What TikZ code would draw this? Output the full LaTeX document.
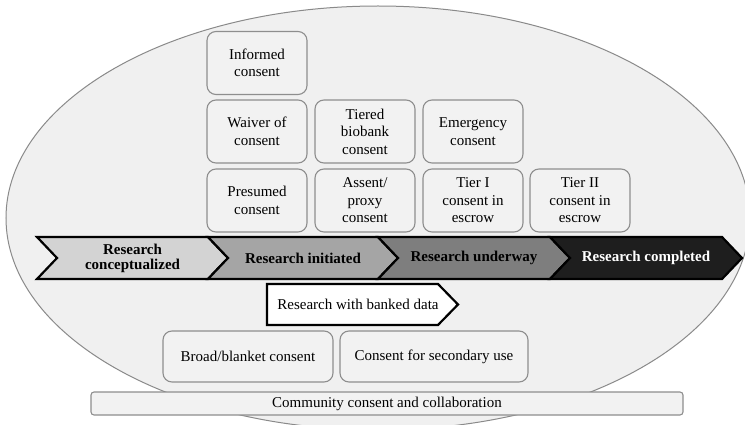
\documentclass[tikz,border=0pt]{standalone}
\usepackage{fontspec}
\setmainfont{Liberation Serif}
\begin{document}
\begin{tikzpicture}[x=1pt,y=-1pt,
  txt/.style={font=\fontsize{15}{17.5}\selectfont, align=center, inner sep=0pt},
  cbox/.style={draw=boxline, fill=boxfill, line width=1.1pt, rounded corners=9pt, inner sep=0pt, txt},
  chev/.style={draw=black, line width=2.2pt, line join=miter},
  chevtxt/.style={font=\fontsize{15}{15}\selectfont\bfseries, align=center, inner sep=0pt}
]
\definecolor{ellfill}{HTML}{F0F0F0}
\definecolor{ellline}{HTML}{8A8A8A}
\definecolor{boxfill}{HTML}{F2F2F2}
\definecolor{boxline}{HTML}{8E8E8E}
\definecolor{segA}{HTML}{D3D3D3}
\definecolor{segB}{HTML}{A5A5A5}
\definecolor{segC}{HTML}{7E7E7E}
\definecolor{segD}{HTML}{1E1E1E}
\useasboundingbox (0,0) rectangle (745,425);
\fill[white] (0,0) rectangle (745,425);
\begin{scope}
\clip (0,0) rectangle (745,425);
\draw[fill=ellfill, draw=ellline, line width=1pt] (378,218) ellipse [x radius=372, y radius=212];
\end{scope}

% consent boxes
\node[cbox, minimum width=100pt, minimum height=63pt] (informed) at (257,63) {Informed\\consent};
\node[cbox, minimum width=100pt, minimum height=63pt] (waiver) at (257,131.5) {Waiver of\\consent};
\node[cbox, minimum width=100pt, minimum height=63pt] (tiered) at (365,131.5) {Tiered\\biobank\\consent};
\node[cbox, minimum width=100pt, minimum height=63pt] (emergency) at (473,131.5) {Emergency\\consent};
\node[cbox, minimum width=100pt, minimum height=63pt] (presumed) at (257,200.5) {Presumed\\consent};
\node[cbox, minimum width=100pt, minimum height=63pt] (assent) at (365,200.5) {Assent/\\proxy\\consent};
\node[cbox, minimum width=100pt, minimum height=63pt] (tierone) at (473,200.5) {Tier I\\consent in\\escrow};
\node[cbox, minimum width=100pt, minimum height=63pt] (tiertwo) at (580,200.5) {Tier II\\consent in\\escrow};

% chevrons
\draw[chev, fill=segA] (37,237) -- (208,237) -- (228,258) -- (208,279) -- (37,279) -- (57,258) -- cycle;
\draw[chev, fill=segB] (208,237) -- (378,237) -- (398,258) -- (378,279) -- (208,279) -- (228,258) -- cycle;
\draw[chev, fill=segC] (378,237) -- (550,237) -- (570,258) -- (550,279) -- (378,279) -- (398,258) -- cycle;
\draw[chev, fill=segD] (550,237) -- (722,237) -- (742,258) -- (722,279) -- (550,279) -- (570,258) -- cycle;
\node[chevtxt] (conc) at (132.5,258) {Research\\conceptualized};
\node[chevtxt] (init) at (303,258) {Research initiated};
\node[chevtxt] (under) at (474,258) {Research underway};
\node[chevtxt, text=white] (compl) at (646,258) {Research completed};

% banked data pentagon
\draw[draw=black, line width=2.2pt, fill=white] (267,284) -- (438,284) -- (458,304.5) -- (438,325) -- (267,325) -- cycle;
\node[txt] (banked) at (358,304.5) {Research with banked data};

% broad / secondary
\node[cbox, minimum width=170pt, minimum height=51pt] (broad) at (248,356.5) {Broad/blanket consent};
\node[cbox, minimum width=188pt, minimum height=51pt] (secondary) at (434,356.5) {Consent for secondary use};

% community bar
\node[draw=boxline, fill=boxfill, line width=1.1pt, rounded corners=3pt, inner sep=0pt,
      minimum width=592pt, minimum height=23pt, txt] (community) at (387,403.5) {Community consent and collaboration};
\end{tikzpicture}
\end{document}
